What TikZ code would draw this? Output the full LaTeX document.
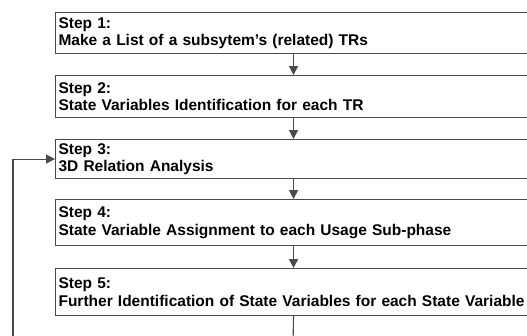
\documentclass[tikz,border=0pt]{standalone}
\usepackage{fontspec}
\setmainfont{Liberation Sans}
\usetikzlibrary{arrows.meta}
\definecolor{edgegray}{HTML}{4A4A4A}
\begin{document}
\begin{tikzpicture}[x=1pt,y=-1pt,
  stepbox/.style={draw=edgegray, line width=1.1pt, fill=white, anchor=north west,
    minimum width=476pt, text width=470pt, inner xsep=3pt, inner ysep=0pt,
    align=left, font=\fontsize{15.5}{17.5}\selectfont\bfseries},
  link/.style={draw=edgegray, line width=1.1pt},
  flow/.style={link, -{Triangle[length=9pt,width=9pt]}}]
\useasboundingbox (0,0) rectangle (527,335);
\clip (0,0) rectangle (527,335);

% the five steps
\node[stepbox, minimum height=41pt] (s1) at (55,12)  {Step 1:\\Make a List of a subsytem’s (related) TRs};
\node[stepbox, minimum height=42pt] (s2) at (55,75)  {Step 2:\\State Variables Identification for each TR};
\node[stepbox, minimum height=39pt] (s3) at (55,139) {Step 3:\\3D Relation Analysis};
\node[stepbox, minimum height=46pt] (s4) at (55,199) {Step 4:\\State Variable Assignment to each Usage Sub-phase};
\node[stepbox, minimum height=47pt] (s5) at (55,268) {Step 5:\\Further Identification of State Variables for each State Variable};

% forward flow
\draw[flow] (s1.south) -- (s2.north);
\draw[flow] (s2.south) -- (s3.north);
\draw[flow] (s3.south) -- (s4.north);
\draw[flow] (s4.south) -- (s5.north);

% continuation below step 5 and the loop back into step 3
\coordinate (tail) at (293,345);
\coordinate (loop) at (13,345);
\draw[link] (s5.south) -- (tail);
\draw[flow] (loop) |- (s3.west);
\end{tikzpicture}
\end{document}
